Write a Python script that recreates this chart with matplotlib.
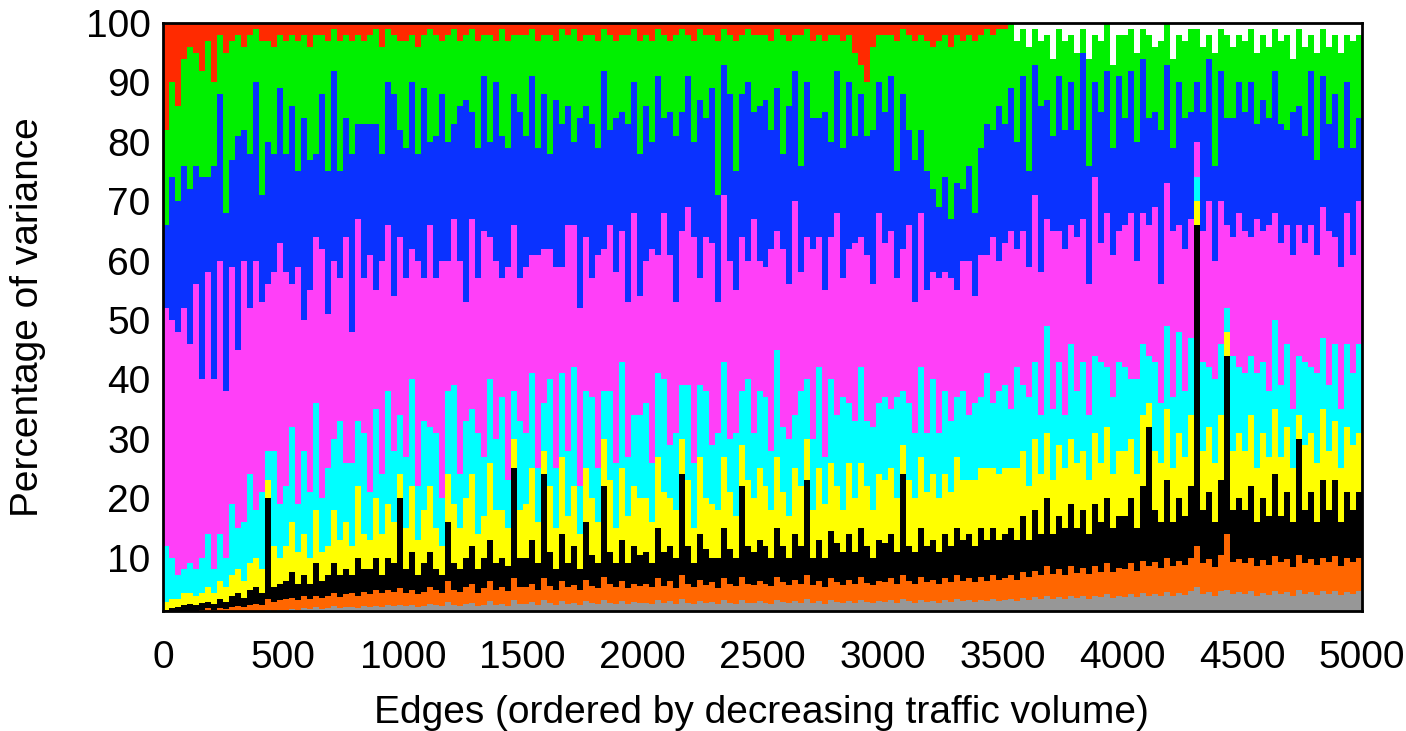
import numpy as np
import matplotlib
matplotlib.use("Agg")
import matplotlib.pyplot as plt

plt.rcParams['font.family'] = ['Liberation Sans', 'DejaVu Sans']

# Edges are grouped in bins of 25 (ordered by decreasing traffic volume)
bin_width = 25

# Percentage of variance per component (bottom to top of the stack)
gray = [.3, .3, .3, .4, .4, .4, .5, .5, .5, .6, .5, .6, .6, .7, .7, .8, .9, 1.2, 1, 1.2,
        1.2, 1.4, 1.2, 1.5, 1.3, 1.6, 1.4, 1.5, 1.8, 1.5, 1.6, 1.7, 1.5, 1.8, 1.6, 1.9, 1.7, 2, 1.8, 2,
        1.8, 2, 1.7, 1.9, 2.2, 2, 1.8, 2.5, 2, 1.9, 2.1, 2.4, 1.8, 2, 2.6, 2, 2.2, 1.9, 2.8, 2.1,
        2.2, 2.5, 2, 2.8, 2.3, 2, 2.6, 2.2, 2.4, 2, 2.7, 2.3, 2.1, 2.9, 2.4, 2.2, 2.6, 2.1, 2.5, 2.3,
        2.4, 2.2, 2.8, 2.3, 2.6, 2.1, 3, 2.4, 2.2, 2.7, 2.3, 2.5, 2.1, 2.8, 2.4, 2.2, 2.9, 2.4, 2.3, 2.6,
        2.4, 2.2, 2.9, 2.5, 2.3, 2.7, 2.4, 3, 2.3, 2.6, 2.2, 2.8, 2.5, 2.3, 2.7, 2.4, 2.9, 2.5, 2.3, 2.6,
        2.5, 2.8, 2.4, 3, 2.6, 2.4, 2.9, 2.5, 2.7, 2.4, 2.8, 2.5, 3, 2.6, 2.8, 2.5, 2.9, 2.6, 3, 2.7,
        2.8, 3, 2.7, 3.2, 2.9, 3.3, 3, 3.5, 3.1, 3.4, 3, 3.6, 3.2, 3.5, 3.1, 3.6, 3.3, 3.8, 3.2, 3.5,
        3.4, 3.8, 3.3, 4, 3.6, 3.9, 3.5, 4.2, 3.6, 4, 3.7, 4.3, 5, 3.8, 4.2, 3.6, 4.4, 4.5, 3.9, 4.2,
        3.8, 4.3, 3.6, 4.1, 3.7, 4.4, 3.9, 4.2, 3.6, 4.5, 3.8, 4.2, 3.7, 4.3, 3.9, 4.4, 3.7, 4.2, 3.9, 4.3]
orange = [.3, .3, .5, .5, .6, .6, .7, 1, .7, .9, .9, 1, 1.2, .9, 1.3, 1.4, 1.1, 1.8, 1.5, 1.6,
          1.8, 1.8, 1.6, 2, 1.7, 2, 1.8, 2, 2.2, 1.9, 2.2, 2.3, 2, 2.4, 2.2, 2.6, 2.3, 2.5, 2.4, 2.8,
          2.2, 2.5, 2.1, 2.3, 2.8, 2.5, 2.2, 3.5, 2.6, 2.3, 2.9, 3.1, 2.2, 2.8, 3.4, 2.5, 2.8, 2.4, 3.7, 2.9,
          2.8, 3, 2.5, 3.7, 2.9, 2.6, 3.4, 2.8, 3, 2.5, 3.5, 2.9, 2.7, 3.9, 3.1, 2.8, 3.4, 2.7, 3.1, 2.9,
          3.1, 2.8, 3.7, 2.9, 3.4, 2.7, 4, 3.2, 2.8, 3.6, 3.1, 3.3, 2.8, 3.8, 3.1, 3, 3.9, 3.2, 3, 3.4,
          3.2, 3, 3.9, 3.3, 3, 3.6, 3.1, 4, 3.1, 3.4, 2.9, 3.7, 3.3, 3, 3.5, 3.2, 3.9, 3.2, 3, 3.4,
          3.3, 3.7, 3.1, 4, 3.4, 3.2, 3.9, 3.3, 3.5, 3.1, 3.7, 3.3, 4, 3.4, 3.8, 3.3, 3.9, 3.4, 4, 3.6,
          3.7, 4, 3.6, 4.3, 3.9, 4.5, 4, 5, 4.1, 4.6, 4, 4.9, 4.2, 4.7, 4.1, 5, 4.3, 5.2, 4.3, 4.8,
          4.6, 5.2, 4.5, 5.5, 4.9, 5.3, 4.7, 5.8, 4.9, 5.5, 5.1, 5.7, 7, 5.2, 5.6, 4.8, 6.1, 9.5, 5.3, 5.6,
          5.2, 5.7, 4.9, 5.5, 5.1, 5.9, 5.3, 5.6, 4.8, 6, 5.2, 5.6, 5, 5.7, 5.3, 5.8, 4.9, 5.7, 5.3, 5.7]
black = [.6, .9, .8, 1.1, 1.2, 1, 1.2, 1, 1, 1.5, 1.1, 1.9, 2.2, 1.6, 2.5, 2.8, 2, 17, 2.5, 2.7,
         3, 4.3, 2.7, 3.5, 2.5, 5.4, 2.8, 3.5, 5, 3.6, 4.2, 3, 6.5, 3.8, 4.2, 5.5, 3, 5.5, 4.8, 15.2,
         4, 6.5, 3.2, 4.8, 6, 3.5, 3, 10, 4.4, 3.8, 5, 6.5, 4, 5.2, 7, 4.5, 5, 4.2, 18.5, 5,
         5, 7.5, 4.5, 17.5, 5.8, 3.4, 8, 4, 6.6, 3.5, 9.8, 5.3, 4.2, 15.2, 5.5, 4, 7, 4.2, 6.4, 5.3,
         5.5, 4, 8.5, 5.8, 6, 5.2, 17, 6.4, 4, 7.7, 6.1, 4.2, 5.1, 8.4, 6, 4.8, 15.2, 6.4, 5.7, 7,
         6.4, 4.8, 8.2, 6.2, 4.7, 7.7, 6.5, 16, 4.6, 7, 4.9, 8, 6.7, 5.7, 7.8, 5.4, 8.2, 6.3, 4.7, 7,
         6.7, 7.5, 5.5, 17, 6, 5.4, 8.2, 6.2, 6.8, 5.5, 7.5, 6.2, 8, 7, 7.4, 6.2, 8.2, 7, 8, 6.7,
         7.5, 8, 6.7, 9.5, 6.2, 10.2, 7, 11.5, 6.8, 9, 8, 10.5, 7.6, 9.8, 6.8, 10.4, 8.4, 11, 7.5, 8.7,
         9, 11, 7.2, 12.5, 23.5, 8.8, 7.8, 13, 7.5, 10.5, 8.2, 12, 54, 9, 11.2, 7.6, 12.5, 30, 8.8, 10.2,
         9, 12, 7.5, 10.4, 8.2, 13.7, 7.8, 11.2, 7.6, 19.5, 9, 11.2, 7.3, 13, 8.8, 12.8, 7.4, 11.1, 8.8, 11]
yellow = [1.3, 1.5, 1.4, 2, 1.8, 1.5, 1.6, 2.5, 1.8, 3, 2.5, 3.5, 4, 2.8, 4.5, 5, 4, 3, 7, 4.5,
          6, 8.5, 5.5, 7, 4.5, 9, 5, 5, 9, 6, 8, 5, 12, 6, 5, 10, 7, 9, 7, 4,
          7, 11, 6, 9, 11, 7, 5, 8, 10, 7, 10, 12, 6, 7, 13, 9, 8, 6.5, 5, 8,
          9, 12, 7, 4, 11, 7, 13, 8, 10, 6, 9, 9.5, 7, 8, 12, 6, 12, 8, 10, 9.5,
          9, 7, 12, 10, 8, 8, 6, 11, 6, 13, 8.5, 9, 8, 12, 9.5, 7, 7, 11, 9, 12,
          10, 8, 12, 9, 7, 11, 10, 7, 8, 12, 9, 11.5, 9.5, 7, 12, 9, 11, 10, 8, 11,
          10.5, 11, 9, 5, 11, 9, 12, 9, 11, 9, 10, 9, 12, 10, 9, 11, 10, 12, 10, 11,
          11, 10, 12, 11, 9, 12, 10, 11, 9, 12, 10, 11, 11, 10, 9, 12, 10, 12, 9, 11,
          11, 10, 9, 12, 4, 10, 10, 12, 9, 11, 10, 12, 4, 10, 11, 10, 11, 4, 10, 11,
          10, 12, 9, 11, 10, 11, 10, 11, 9, 4, 11, 10, 10, 12, 10, 10, 9, 11, 11, 10]
cyan = [9.5, 7, 4, 4, 5, 4.5, 6, 9, 4, 8, 5, 12, 7, 10, 15, 8, 13, 5, 16, 9,
        10, 16, 8, 14, 11, 18, 9, 13, 12, 20, 10, 14, 11, 17, 8, 15, 10, 19, 12, 10,
        12, 18, 9, 15, 10, 16, 8, 14, 20, 9, 13, 11, 17, 10, 14, 12, 19, 8, 8, 15,
        12, 16, 9, 8, 18, 10, 14, 11, 20, 8, 13, 17, 9, 8, 15, 11, 18, 10, 12, 14,
        16, 10, 14, 19, 9, 13, 9, 16, 11, 12, 18, 10, 13, 16, 9, 14, 9, 17, 11, 13,
        15, 10, 18, 11, 13, 9, 16, 10, 12, 17, 8, 14, 12, 19, 10, 13, 16, 11, 14, 12,
        14, 10, 17, 9, 13, 11, 15, 10, 16, 11, 14, 12, 10, 15, 11, 13, 12, 16, 11, 14,
        14, 10, 17, 11, 15, 13, 10, 18, 12, 14, 9, 16, 12, 15, 11, 13, 17, 10, 13, 15,
        14, 10, 16, 12, 8, 15, 10, 14, 12, 17, 11, 13, 4, 15, 10, 14, 12, 4, 16, 11,
        13, 10, 16, 12, 11, 15, 12, 14, 10, 10, 14, 11, 15, 12, 11, 13, 10, 14, 12, 15]
magenta = [40, 40, 41, 44, 37, 48, 30, 44, 32, 46, 28, 40, 30, 44, 28, 42, 32, 28, 30, 44,
           36, 24, 40, 22, 34, 28, 42, 26, 30, 24, 38, 22, 34, 26, 40, 20, 36, 28, 26, 30,
           30, 22, 38, 24, 34, 26, 40, 22, 28, 36, 20, 32, 26, 38, 24, 30, 20, 36, 28, 24,
           28, 20, 36, 26, 22, 34, 18, 38, 24, 30, 26, 20, 36, 24, 28, 32, 22, 26, 34, 20,
           24, 36, 20, 28, 32, 22, 26, 30, 38, 18, 26, 34, 22, 28, 30, 24, 26, 20, 36, 22,
           22, 34, 20, 30, 26, 36, 20, 24, 32, 22, 28, 24, 34, 20, 26, 30, 22, 28, 24, 32,
           26, 30, 20, 24, 30, 22, 26, 24, 18, 26, 20, 24, 18, 22, 26, 18, 24, 20, 28, 22,
           24, 30, 20, 26, 22, 28, 24, 18, 30, 22, 28, 20, 26, 24, 22, 30, 20, 26, 24, 22,
           24, 28, 20, 22, 22, 26, 20, 24, 28, 18, 24, 20, 6, 22, 28, 20, 24, 14, 20, 26,
           24, 20, 26, 22, 28, 18, 24, 20, 26, 22, 20, 24, 20, 22, 26, 18, 24, 22, 20, 24]
blue = [14, 24, 22, 24, 26, 20, 34, 16, 36, 28, 30, 18, 36, 22, 26, 30, 18, 24, 20, 26,
        20, 30, 16, 34, 22, 14, 26, 24, 32, 18, 20, 30, 16, 26, 22, 28, 18, 24, 34, 18,
        22, 28, 18, 32, 14, 24, 28, 20, 16, 26, 34, 18, 22, 26, 16, 30, 24, 20, 22, 28,
        22, 30, 18, 26, 16, 28, 24, 20, 14, 32, 22, 26, 18, 30, 16, 26, 20, 30, 22, 24,
        26, 18, 30, 16, 24, 28, 20, 22, 16, 30, 20, 26, 18, 22, 28, 20, 24, 30, 18, 26,
        28, 20, 24, 16, 30, 22, 18, 26, 22, 20, 30, 16, 24, 22, 28, 18, 24, 20, 26, 22,
        22, 26, 18, 26, 16, 24, 14, 20, 14, 12, 16, 10, 18, 12, 16, 14, 18, 22, 18, 26,
        20, 24, 18, 26, 16, 22, 28, 20, 16, 26, 20, 24, 18, 28, 20, 16, 22, 24, 18, 26,
        18, 24, 20, 26, 18, 16, 26, 20, 14, 24, 22, 18, 10, 20, 24, 16, 22, 18, 20, 22,
        20, 26, 16, 22, 18, 24, 20, 16, 24, 20, 18, 26, 16, 22, 18, 24, 20, 22, 18, 14]
green = [16, 16, 16, 18, 24, 19, 18, 23, 14, 10, 27, 20, 17, 14, 20, 9, 26, 17, 18, 9,
         19, 12, 22, 14, 19, 20, 10, 22, 7, 22, 14, 19, 15, 14, 15, 16, 18, 9, 10, 15,
         18, 8, 18, 9, 19, 17, 9, 18, 16, 11, 11, 14, 18, 7, 18, 7, 18, 18, 10, 13,
         17, 8, 18, 10, 20, 10, 16, 12, 19, 13, 12, 15, 18, 7, 16, 13, 13, 15, 9, 19,
         12, 17, 8, 14, 12, 17, 14, 7, 17, 12, 14, 9, 26, 6, 10, 22, 10, 9, 13, 12,
         11, 15, 10, 20, 11, 6, 22, 9, 13, 14, 12, 18, 6, 18, 8, 14, 5, 9, 14, 8,
         13, 7, 22, 11, 16, 20, 16, 22, 24, 28, 24, 29, 25, 25, 22, 29, 19, 16, 16, 13,
         16, 11, 17, 8, 21, 6, 11, 11, 13, 8, 15, 8, 13, 4, 18, 8, 12, 8, 14, 7,
         14, 7, 15, 5, 14, 11, 15, 7, 15, 8, 13, 14, 9, 11, 4, 19, 7, 14, 12, 8,
         12, 9, 12, 11, 12, 7, 14, 16, 9, 13, 15, 6, 18, 8, 13, 10, 16, 8, 18, 14]
red = [18, 10, 14, 6, 4, 5, 8, 3, 10, 2, 5, 3, 2, 4, 2, 1, 3, 3, 4, 2,
       3, 2, 3, 2, 4, 2, 2, 3, 1, 3, 2, 3, 2, 3, 2, 1, 4, 1, 2, 3,
       3, 2, 4, 2, 1, 2, 3, 2, 1, 3, 2, 1, 3, 2, 2, 3, 1, 3, 2, 2,
       2, 1, 3, 2, 2, 3, 1, 2, 1, 3, 2, 2, 3, 1, 2, 3, 2, 2, 1, 3,
       2, 3, 1, 2, 3, 2, 1, 2, 3, 1, 2, 2, 3, 1, 2, 3, 2, 1, 2, 2,
       2, 3, 1, 2, 3, 2, 2, 1, 3, 2, 3, 2, 2, 3, 2, 5, 7, 10, 4, 2,
       2, 2, 3, 1, 2, 3, 2, 3, 4, 3, 2, 4, 2, 3, 2, 3, 2, 1, 2, 1,
       1, 0, 0, 0, 0, 0, 0, 0, 0, 0, 0, 0, 0, 0, 0, 0, 0, 0, 0, 0,
       0, 0, 0, 0, 0, 0, 0, 0, 0, 0, 0, 0, 0, 0, 0, 0, 0, 0, 0, 0,
       0, 0, 0, 0, 0, 0, 0, 0, 0, 0, 0, 0, 0, 0, 0, 0, 0, 0, 0, 0]

x_ticks = [0, 500, 1000, 1500, 2000, 2500, 3000, 3500, 4000, 4500, 5000]
y_ticks = [10, 20, 30, 40, 50, 60, 70, 80, 90, 100]

series = [gray, orange, black, yellow, cyan, magenta, blue, green, red]
colors = ['#979797', '#ff6600', '#000000', '#ffff00', '#00ffff',
          '#ff3ff8', '#0a32ff', '#00f000', '#ff2a00']

W, H = 1406, 731
fig = plt.figure(figsize=(W / 100, H / 100), dpi=100)
L, R, T, B = 163, 1362, 23, 611
ax = fig.add_axes([L / W, 1 - B / H, (R - L) / W, (B - T) / H])

n = len(gray)
edges = np.arange(n + 1) * bin_width
bottom = np.zeros(n)
for vals, col in zip(series, colors):
    v = np.asarray(vals, dtype=float)
    ax.stairs(bottom + v, edges, baseline=bottom.copy(), fill=True,
              color=col, linewidth=0, antialiased=False)
    bottom = bottom + v

ax.set_xlim(0, 5000)
ax.set_ylim(1, 100)
ax.set_xticks(x_ticks)
ax.set_yticks(y_ticks)
fs = 28
ax.tick_params(axis='both', length=0, labelsize=fs)
ax.tick_params(axis='x', pad=21)
ax.tick_params(axis='y', pad=9)
for s in ax.spines.values():
    s.set_linewidth(2)
    s.set_color('black')
    s.set_zorder(5)

fig.text(761 / W, 1 - 713 / H, 'Edges (ordered by decreasing traffic volume)',
         ha='center', va='center', fontsize=fs)
fig.text(28 / W, 1 - 317 / H, 'Percentage of variance', rotation=90,
         ha='center', va='center', fontsize=fs)

fig.savefig('out.png', dpi=100)
